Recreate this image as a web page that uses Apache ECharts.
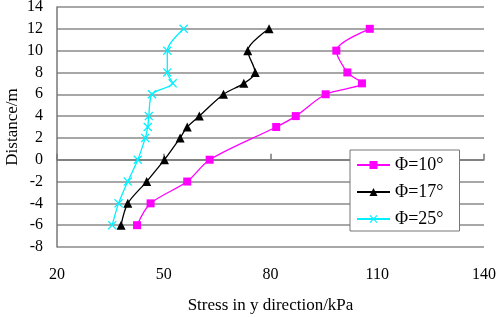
<!DOCTYPE html>
<html><head><meta charset="utf-8">
<script src="https://cdn.jsdelivr.net/npm/echarts@6/dist/echarts.min.js"></script>
<style>html,body{margin:0;padding:0;background:#fff}#c{width:498px;height:317px}</style>
</head><body><div id="c"></div>
<script>
var seriesNames = ['Φ=10°', 'Φ=17°', 'Φ=25°'];
var distance10 = [-6, -4, -2, 0, 3, 4, 6, 7, 8, 10, 12];
var stress10 = [42.5, 46.3, 56.6, 62.9, 81.6, 87.1, 95.5, 105.7, 101.6, 98.5, 107.9];
var distance17 = [-6, -4, -2, 0, 2, 3, 4, 6, 7, 8, 10, 12];
var stress17 = [38.0, 39.9, 45.2, 50.2, 54.6, 56.6, 60.0, 66.8, 72.5, 75.7, 73.6, 79.6];
var distance25 = [-6, -4, -2, 0, 2, 3, 4, 6, 7, 8, 10, 12];
var stress25 = [35.5, 37.3, 39.9, 42.7, 44.8, 45.5, 45.8, 46.7, 52.5, 51.0, 51.0, 55.6];
var xTicks = [20, 50, 80, 110, 140];
var yTicks = [-8, -6, -4, -2, 0, 2, 4, 6, 8, 10, 12, 14];

function pairs(xs, ys) { return xs.map(function (x, i) { return [x, ys[i]]; }); }
var serif = '"Liberation Serif","DejaVu Serif",serif';
var crossPath = 'path://M0,1L1,0L5,4L9,0L10,1L6,5L10,9L9,10L5,6L1,10L0,9L4,5Z';

var chart = echarts.init(document.getElementById('c'), null, {renderer: 'canvas'});
chart.setOption({
  animation: false,
  backgroundColor: '#ffffff',
  grid: {left: 57, right: 14, top: 7, bottom: 70, containLabel: false, outerBoundsMode: 'none'},
  xAxis: {
    type: 'value', min: xTicks[0], max: xTicks[xTicks.length - 1], interval: 30,
    name: 'Stress in y direction/kPa', nameLocation: 'middle', nameGap: 50, nameMoveOverlap: false,
    nameTextStyle: {fontFamily: serif, fontSize: 17, color: '#000'},
    axisLine: {show: true, lineStyle: {color: '#777', width: 1.5}},
    axisTick: {show: true, inside: true, length: 6, lineStyle: {color: '#777', width: 1.5}},
    axisLabel: {fontFamily: serif, fontSize: 16, color: '#000', margin: 20},
    splitLine: {show: false}
  },
  yAxis: {
    type: 'value', min: yTicks[0], max: yTicks[yTicks.length - 1], interval: 2,
    name: 'Distance/m', nameLocation: 'middle', nameGap: 36, nameMoveOverlap: false,
    nameTextStyle: {fontFamily: serif, fontSize: 17, color: '#000'},
    axisLine: {show: true, lineStyle: {color: '#777', width: 1.5}},
    axisTick: {show: false},
    axisLabel: {fontFamily: serif, fontSize: 16, color: '#000', margin: 14},
    splitLine: {show: true, lineStyle: {color: '#8a8a8a', width: 1.5}}
  },
  legend: {
    data: seriesNames, orient: 'vertical', left: 350, top: 150,
    itemWidth: 33, itemHeight: 10, itemGap: 9,
    padding: [6, 16, 3, 6],
    backgroundColor: '#fff', borderColor: '#777', borderWidth: 1,
    textStyle: {fontFamily: serif, fontSize: 18, color: '#000'}
  },
  series: [
    {name: seriesNames[0], type: 'line', data: pairs(stress10, distance10), smooth: 0.3,
     symbol: 'rect', symbolSize: 8, color: '#ff00ff', lineStyle: {width: 1.3}},
    {name: seriesNames[1], type: 'line', data: pairs(stress17, distance17), smooth: 0.3,
     symbol: 'triangle', symbolSize: 9, color: '#000000', lineStyle: {width: 1.3}},
    {name: seriesNames[2], type: 'line', data: pairs(stress25, distance25), smooth: 0.3,
     symbol: crossPath, symbolSize: 9, color: '#00f0ff', lineStyle: {width: 1.3}}
  ]
});
</script></body></html>
